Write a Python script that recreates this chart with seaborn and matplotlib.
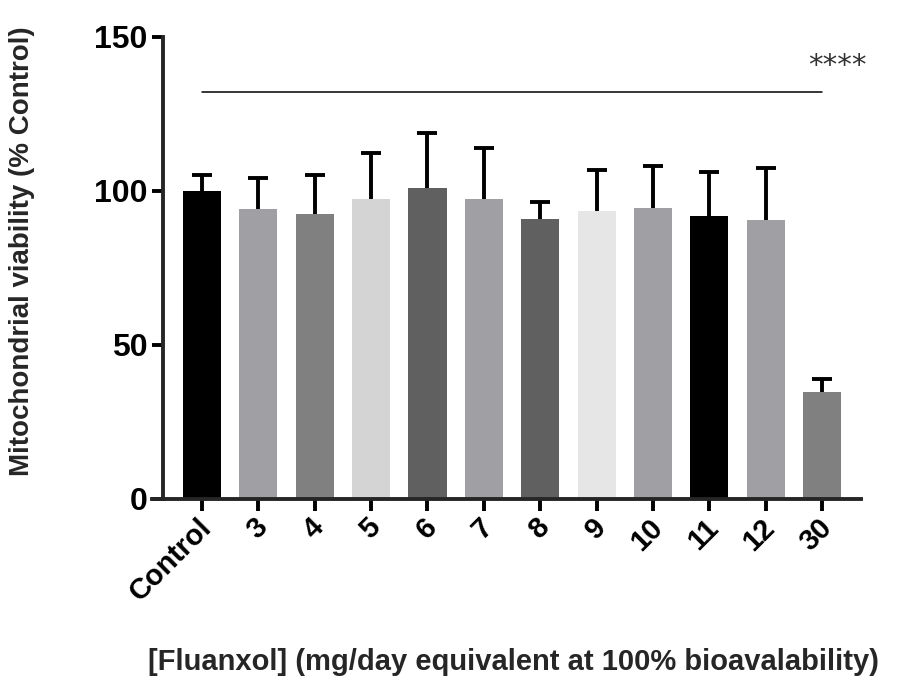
import matplotlib
matplotlib.use("Agg")
import matplotlib.pyplot as plt
import matplotlib.transforms as mtransforms
import seaborn as sns
import pandas as pd
import numpy as np

# ---- data ----
categories = ["Control", "3", "4", "5", "6", "7", "8", "9", "10", "11", "12", "30"]
viability = [100.0, 94.1, 92.4, 97.5, 101.1, 97.5, 90.9, 93.6, 94.6, 91.9, 90.6, 34.6]
sd_upper = [5.2, 10.2, 12.7, 14.9, 17.6, 16.3, 5.4, 13.2, 13.6, 14.2, 17.0, 4.4]
bar_colors = ["#000000", "#a0a0a4", "#808080", "#d4d4d4", "#606060", "#a0a0a4",
              "#606060", "#e6e6e6", "#a0a0a4", "#000000", "#a0a0a4", "#808080"]
yticks = [0, 50, 100, 150]
sig_label = "****"
sig_y = 132.3
sig_text_y = 140.6
ylabel = "Mitochondrial viability (% Control)"
xlabel = "[Fluanxol] (mg/day equivalent at 100% bioavalability)"

sns.set_style("ticks")
plt.rcParams["font.family"] = ["Liberation Sans", "DejaVu Sans"]

df = pd.DataFrame({"dose": categories, "viability": viability})

fig = plt.figure(figsize=(9.01, 6.97), dpi=100)
ax = fig.add_axes([152 / 901, 198 / 697, 709 / 901, 462 / 697])

sns.barplot(data=df, x="dose", y="viability", hue="dose", palette=bar_colors,
            legend=False, width=0.675, saturation=1, errorbar=None,
            linewidth=0, ax=ax, order=categories, hue_order=categories)

x = np.arange(len(categories))
means = np.array(viability)
errs = np.array(sd_upper)
ax.vlines(x, means, means + errs, color="black", linewidth=2.8, zorder=3)
ax.plot(x, means + errs, linestyle="none", marker="_", markersize=14.4,
        markeredgewidth=2.8, color="black", zorder=3)

# significance line
ax.plot([x[0], x[-1]], [sig_y, sig_y], color="black", linewidth=1.1, zorder=3)
ax.text(x[-1] + 0.27, sig_text_y, sig_label, ha="center", va="center",
        fontsize=21, family="DejaVu Sans", color="#333333")

for s in ["top", "right"]:
    ax.spines[s].set_visible(False)
ax.spines["left"].set_position(("data", -0.692))
ax.spines["left"].set_linewidth(2.8)
ax.spines["bottom"].set_linewidth(2.8)

ax.set_xlim(-0.887, 11.69)
ax.set_ylim(0, 150)
ax.spines["left"].set_bounds(0, 150)
ax.set_yticks(yticks)
ax.set_yticklabels([str(t) for t in yticks], fontsize=23, fontweight="bold")
ax.set_xticks(x)
ax.set_xticklabels(categories, fontsize=21, fontweight="bold", rotation=45,
                   ha="right", va="center", rotation_mode="anchor")
ax.tick_params(axis="y", length=8, width=2.8, pad=3, colors="black")
ax.tick_params(axis="x", length=8.5, width=2.8, pad=9, colors="black")
offset = mtransforms.ScaledTranslation(5 / 100, 0, fig.dpi_scale_trans)
for lab in ax.get_xticklabels():
    lab.set_transform(lab.get_transform() + offset)

ax.set_xlabel("")
ax.set_ylabel("")
fig.text(22 / 901, 1 - 251 / 697, ylabel, rotation=90, ha="center", va="center",
         fontsize=20, fontweight="bold")
fig.text(513 / 901, 1 - 662 / 697, xlabel, ha="center", va="center",
         fontsize=21, fontweight="bold")

fig.savefig("out.png", dpi=100)
